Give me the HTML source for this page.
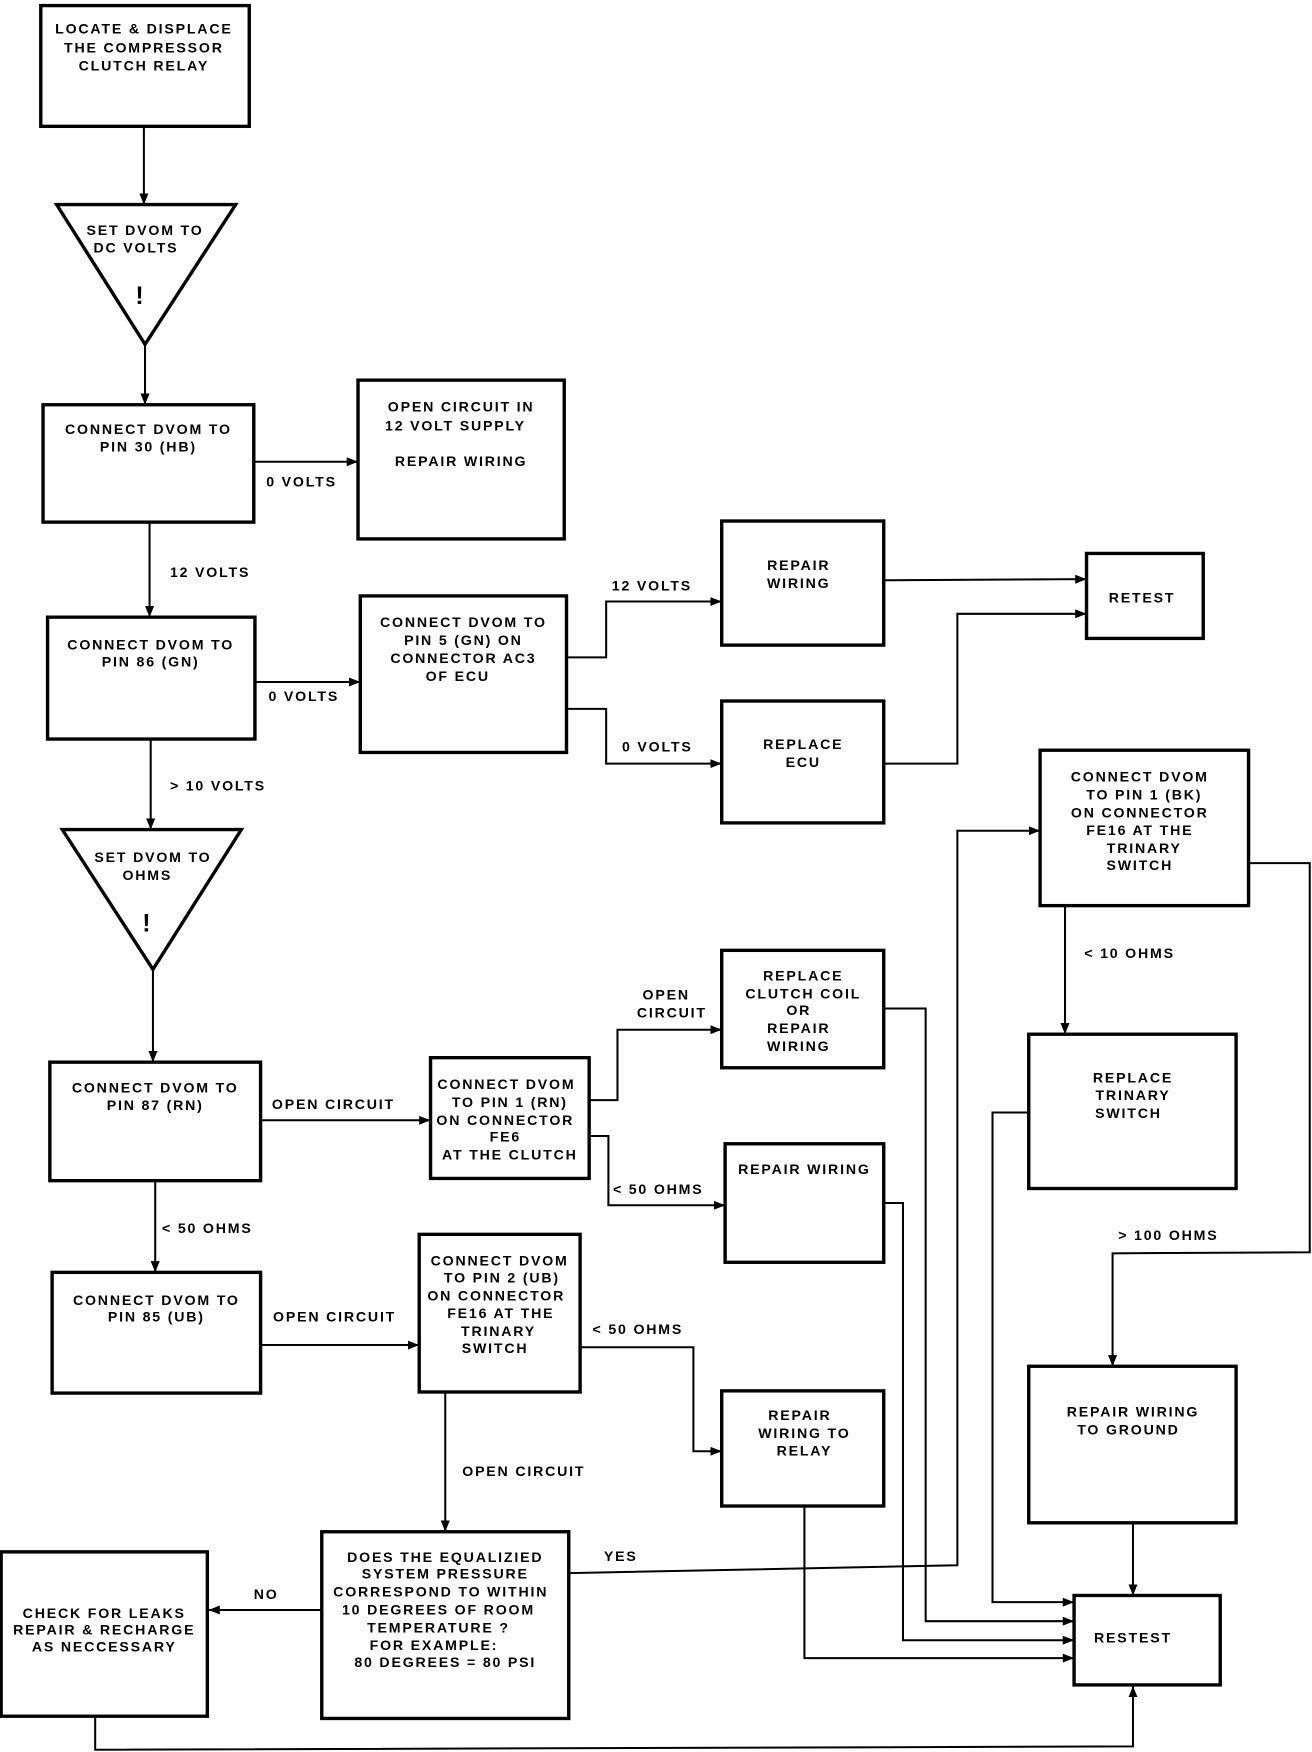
<!DOCTYPE html>
<html><head><meta charset="utf-8"><style>
html,body{margin:0;padding:0;background:#fff;}
svg{display:block;}
text{font-family:"Liberation Sans",sans-serif;font-size:12.5px;letter-spacing:1.6px;fill:#000;text-anchor:middle;font-weight:bold;}
.l{text-anchor:start;}
.b{fill:#fff;stroke:#000;stroke-width:3;}
.c{fill:none;stroke:#000;stroke-width:1.8;}
</style></head><body>
<svg width="1312" height="1752" viewBox="0 0 1158 1567" preserveAspectRatio="none" xmlns="http://www.w3.org/2000/svg">
<defs><marker id="a" viewBox="0 0 10 10" refX="10" refY="5" markerWidth="10" markerHeight="10" markerUnits="userSpaceOnUse" orient="auto"><path d="M0,1 L10,5 L0,9 z" fill="#000"/></marker></defs>

<g class="c" marker-end="url(#a)">
<path d="M127,113 V183"/>
<path d="M128,308 V362"/>
<path d="M224,413 H316"/>
<path d="M132,467 V552"/>
<path d="M225,610 H318"/>
<path d="M500,588 H535 V538 H637"/>
<path d="M500,634 H535 V683 H637"/>
<path d="M780,519 L959,518"/>
<path d="M780,683 H845 V549 H959"/>
<path d="M133,661 V742"/>
<path d="M135,867 V950"/>
<path d="M230,1002 H380"/>
<path d="M520,984 H545 V921 H637"/>
<path d="M520,1016 H537 V1078 H640"/>
<path d="M137,1056 V1138"/>
<path d="M230,1203 H370"/>
<path d="M512,1205 H612 V1298 H637"/>
<path d="M393,1245 V1370"/>
<path d="M284,1440 H184"/>
<path d="M84,1535 V1565 L1000,1562 V1508"/>
<path d="M502,1407 L845,1400 V743 H918"/>
<path d="M940,810 V925"/>
<path d="M1102,772 H1156 V1120 L982,1121 V1222"/>
<path d="M908,995 H876 V1433 H948"/>
<path d="M1000,1362 V1427"/>
<path d="M780,902 H817 V1450 H948"/>
<path d="M780,1076 H797 V1467 H948"/>
<path d="M710,1347 V1483 H948"/>
</g>

<rect class="b" x="36" y="5" width="184" height="108"/>
<text x="127" y="30">LOCATE &amp; DISPLACE</text>
<text x="127" y="47">THE COMPRESSOR</text>
<text x="127" y="63">CLUTCH RELAY</text>

<path class="b" d="M50,183 H208 L128,308 Z"/>
<text x="128" y="210">SET DVOM TO</text>
<text x="120" y="226">DC VOLTS</text>
<text x="124" y="272" style="font-size:22px;font-weight:bold">!</text>

<rect class="b" x="38" y="362" width="186" height="105"/>
<text x="131" y="388">CONNECT DVOM TO</text>
<text x="131" y="404">PIN 30 (HB)</text>

<rect class="b" x="316" y="340" width="182" height="142"/>
<text x="407" y="368">OPEN CIRCUIT IN</text>
<text x="402" y="385">12 VOLT SUPPLY</text>
<text x="407" y="417">REPAIR WIRING</text>
<text class="l" x="235" y="435">0 VOLTS</text>
<text class="l" x="150" y="516">12 VOLTS</text>

<rect class="b" x="42" y="552" width="183" height="109"/>
<text x="133" y="581">CONNECT DVOM TO</text>
<text x="133" y="596">PIN 86 (GN)</text>
<text class="l" x="237" y="627">0 VOLTS</text>

<rect class="b" x="318" y="533" width="182" height="140"/>
<text x="409" y="561">CONNECT DVOM TO</text>
<text x="409" y="577">PIN 5 (GN) ON</text>
<text x="409" y="593">CONNECTOR AC3</text>
<text x="404" y="609">OF ECU</text>
<text class="l" x="540" y="528">12 VOLTS</text>
<text class="l" x="549" y="672">0 VOLTS</text>

<rect class="b" x="637" y="466" width="143" height="111"/>
<text x="705" y="510">REPAIR</text>
<text x="705" y="526">WIRING</text>

<rect class="b" x="637" y="627" width="143" height="109"/>
<text x="709" y="670">REPLACE</text>
<text x="709" y="686">ECU</text>

<rect class="b" x="959" y="495" width="103" height="76"/>
<text x="1008" y="539">RETEST</text>
<text class="l" x="150" y="707">&gt; 10 VOLTS</text>

<path class="b" d="M55,742 H213 L135,867 Z"/>
<text x="135" y="771">SET DVOM TO</text>
<text x="130" y="787">OHMS</text>
<text x="130" y="833" style="font-size:22px;font-weight:bold">!</text>

<rect class="b" x="44" y="950" width="186" height="106"/>
<text x="137" y="977">CONNECT DVOM TO</text>
<text x="137" y="993">PIN 87 (RN)</text>
<text class="l" x="240" y="992">OPEN CIRCUIT</text>

<rect class="b" x="380" y="946" width="140" height="108"/>
<text x="447" y="974">CONNECT DVOM</text>
<text x="450" y="990">TO PIN 1 (RN)</text>
<text x="446" y="1006">ON CONNECTOR</text>
<text x="446" y="1021">FE6</text>
<text x="450" y="1037">AT THE CLUTCH</text>
<text x="588" y="894">OPEN</text>
<text x="593" y="910">CIRCUIT</text>
<text class="l" x="541" y="1068">&lt; 50 OHMS</text>

<rect class="b" x="637" y="850" width="143" height="105"/>
<text x="709" y="877">REPLACE</text>
<text x="709" y="893">CLUTCH COIL</text>
<text x="705" y="908">OR</text>
<text x="705" y="924">REPAIR</text>
<text x="705" y="940">WIRING</text>

<rect class="b" x="640" y="1023" width="140" height="106"/>
<text x="710" y="1050">REPAIR WIRING</text>
<text class="l" x="143" y="1103">&lt; 50 OHMS</text>

<rect class="b" x="46" y="1138" width="184" height="108"/>
<text x="138" y="1167">CONNECT DVOM TO</text>
<text x="138" y="1182">PIN 85 (UB)</text>
<text class="l" x="241" y="1182">OPEN CIRCUIT</text>

<rect class="b" x="370" y="1104" width="142" height="141"/>
<text x="441" y="1132">CONNECT DVOM</text>
<text x="443" y="1147">TO PIN 2 (UB)</text>
<text x="438" y="1163">ON CONNECTOR</text>
<text x="442" y="1179">FE16 AT THE</text>
<text x="440" y="1195">TRINARY</text>
<text x="437" y="1210">SWITCH</text>
<text class="l" x="523" y="1193">&lt; 50 OHMS</text>

<rect class="b" x="637" y="1244" width="143" height="103"/>
<text x="706" y="1270">REPAIR</text>
<text x="710" y="1286">WIRING TO</text>
<text x="710" y="1302">RELAY</text>
<text class="l" x="408" y="1320">OPEN CIRCUIT</text>

<rect class="b" x="284" y="1370" width="218" height="167"/>
<text x="393" y="1397">DOES THE EQUALIZIED</text>
<text x="393" y="1412">SYSTEM PRESSURE</text>
<text x="389" y="1428">CORRESPOND TO WITHIN</text>
<text x="387" y="1444">10 DEGREES OF ROOM</text>
<text x="387" y="1460">TEMPERATURE ?</text>
<text x="383" y="1476">FOR EXAMPLE:</text>
<text x="393" y="1491">80 DEGREES = 80 PSI</text>
<text class="l" x="533" y="1396">YES</text>
<text class="l" x="224" y="1430">NO</text>

<rect class="b" x="1" y="1388" width="182" height="147"/>
<text x="92" y="1447">CHECK FOR LEAKS</text>
<text x="92" y="1462">REPAIR &amp; RECHARGE</text>
<text x="92" y="1477">AS NECCESSARY</text>

<rect class="b" x="918" y="671" width="184" height="139"/>
<text x="1006" y="699">CONNECT DVOM</text>
<text x="1010" y="715">TO PIN 1 (BK)</text>
<text x="1006" y="731">ON CONNECTOR</text>
<text x="1006" y="747">FE16 AT THE</text>
<text x="1010" y="763">TRINARY</text>
<text x="1006" y="778">SWITCH</text>
<text class="l" x="957" y="857">&lt; 10 OHMS</text>

<rect class="b" x="908" y="925" width="183" height="138"/>
<text x="1000" y="968">REPLACE</text>
<text x="1000" y="984">TRINARY</text>
<text x="996" y="1000">SWITCH</text>
<text class="l" x="987" y="1109">&gt; 100 OHMS</text>

<rect class="b" x="908" y="1222" width="183" height="140"/>
<text x="1000" y="1267">REPAIR WIRING</text>
<text x="996" y="1283">TO GROUND</text>

<rect class="b" x="948" y="1427" width="129" height="80"/>
<text x="1000" y="1469">RESTEST</text>
</svg>
</body></html>
